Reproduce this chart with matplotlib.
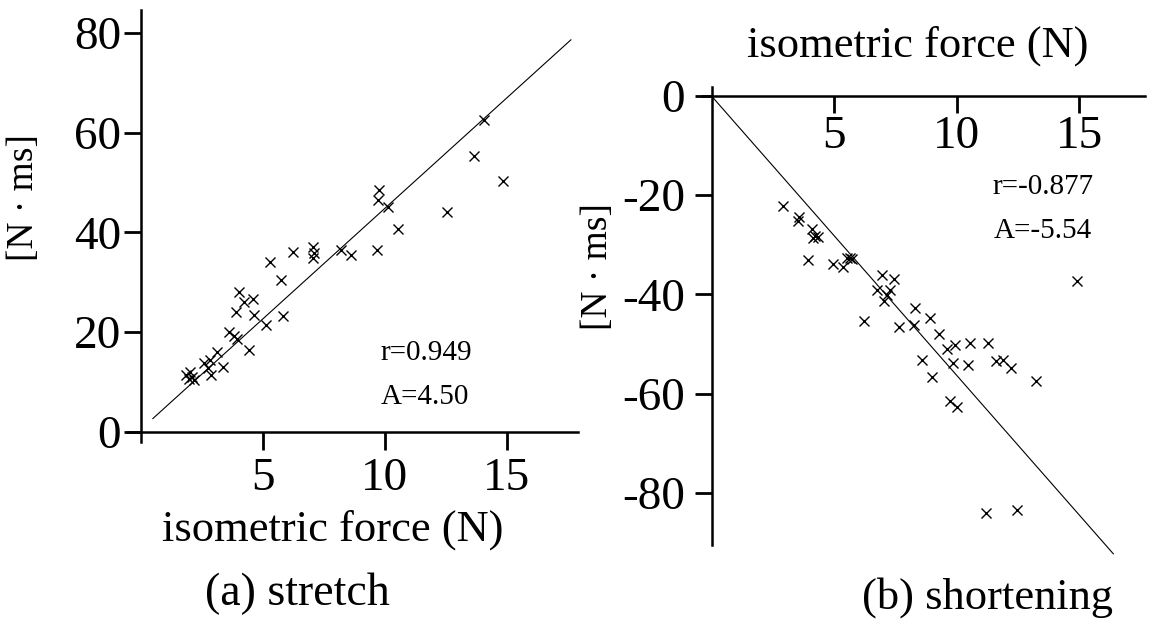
import matplotlib
matplotlib.use("Agg")
import matplotlib.pyplot as plt

plt.rcParams['font.family'] = ['Liberation Serif', 'DejaVu Serif']
plt.rcParams['axes.unicode_minus'] = False

# ---- data: (a) stretch ----
stretch_force = [14.07, 13.66, 14.85, 12.58, 9.78, 9.74, 10.15, 10.56, 9.67, 8.20,
                 8.62, 7.07, 7.10, 7.07, 6.23, 5.30, 5.74, 5.82, 5.14, 4.04,
                 4.61, 4.25, 3.93, 4.65, 3.63, 3.83, 3.96, 4.45, 3.14, 2.84,
                 2.60, 3.39, 2.77, 2.88, 1.86, 2.02, 1.99, 2.18, 2.09]
stretch_imp = [62.5, 55.4, 50.3, 44.1, 48.6, 46.5, 45.0, 40.7, 36.5, 36.5,
               35.5, 37.1, 35.9, 34.8, 36.1, 34.0, 30.5, 23.3, 21.4, 28.1,
               26.6, 26.1, 24.0, 23.5, 20.1, 19.3, 18.6, 16.5, 16.1, 14.4,
               13.8, 13.0, 12.8, 11.4, 11.4, 12.1, 10.6, 10.4, 11.1]
stretch_fit_x = [0.5, 17.64]
stretch_fit_y = [2.7, 78.6]
stretch_r = "r=0.949"
stretch_A = "A=4.50"

# ---- data: (b) shortening ----
short_force = [2.93, 3.57, 3.54, 4.09, 4.22, 4.36, 4.16, 3.95, 4.97, 5.36,
               5.52, 5.66, 5.72, 6.95, 7.45, 6.74, 7.29, 7.15, 7.04, 6.22,
               7.67, 8.28, 8.30, 8.90, 9.28, 9.62, 9.94, 10.55, 11.27, 8.59,
               9.85, 10.45, 11.60, 11.91, 12.21, 9.00, 13.25, 9.72, 10.04, 14.91,
               11.22, 12.48]
short_imp = [-22.1, -24.3, -25.3, -26.8, -28.3, -28.5, -28.7, -33.0, -33.9, -34.5,
             -32.7, -32.6, -32.9, -36.1, -36.9, -39.1, -39.2, -40.2, -41.3, -45.3,
             -46.5, -46.1, -42.8, -44.7, -48.0, -51.0, -50.3, -49.7, -49.7, -53.3,
             -53.8, -54.2, -53.5, -53.3, -54.8, -56.7, -57.4, -61.4, -62.8, -37.2,
             -84.1, -83.5]
short_fit_x = [0.0, 16.4]
short_fit_y = [0.0, -92.3]
short_r = "r=-0.877"
short_A = "A=-5.54"

x_ticks = [5, 10, 15]
y_ticks_a = [0, 20, 40, 60, 80]
y_ticks_b = [0, -20, -40, -60, -80]

W, H = 1153, 626
fig = plt.figure(figsize=(W / 100, H / 100), dpi=100)

TICK_FS = 34
SPINE_LW = 1.8

def style(ax):
    for s in ('top', 'right'):
        ax.spines[s].set_visible(False)
    ax.spines['left'].set_position(('data', 0))
    ax.spines['bottom'].set_position(('data', 0))
    ax.spines['left'].set_linewidth(SPINE_LW)
    ax.spines['bottom'].set_linewidth(SPINE_LW)
    ax.set_facecolor('none')

# ---- (a) ----
axa = fig.add_axes([0.1114, 0.2939, 0.3903, 0.6895])
style(axa)
axa.set_xlim(-0.5, 17.95)
axa.set_ylim(-2, 84.5)
axa.plot(stretch_fit_x, stretch_fit_y, color='black', lw=0.8)
axa.plot(stretch_force, stretch_imp, linestyle='none', marker='x', ms=7.5, mew=1.0, color='black')
axa.set_xticks(x_ticks)
axa.set_yticks(y_ticks_a)
axa.tick_params(axis='x', direction='out', length=13, width=2, pad=5, labelsize=TICK_FS)
axa.tick_params(axis='y', direction='out', length=12, width=2, pad=2, labelsize=TICK_FS)
axa.text(9.85, 15.8, stretch_r, fontsize=21, va='center', ha='left')
axa.text(9.85, 7.0, stretch_A, fontsize=21, va='center', ha='left')

# ---- (b) ----
axb = fig.add_axes([0.6086, 0.1296, 0.3846, 0.7321])
style(axb)
axb.set_xlim(-0.4, 17.7)
axb.set_ylim(-90.5, 1.9)
axb.plot(short_fit_x, short_fit_y, color='black', lw=0.8, clip_on=False)
axb.plot(short_force, short_imp, linestyle='none', marker='x', ms=7.5, mew=1.0, color='black')
axb.set_xticks(x_ticks)
axb.set_yticks(y_ticks_b)
axb.tick_params(axis='x', direction='out', length=12, width=2, pad=2, labelsize=TICK_FS)
axb.tick_params(axis='y', direction='out', length=12, width=2, pad=7, labelsize=TICK_FS)
axb.text(11.45, -18.3, short_r, fontsize=21, va='center', ha='left')
axb.text(11.5, -27.2, short_A, fontsize=21, va='center', ha='left')

# ---- labels ----
def ftext(x, y, s, **kw):
    fig.text(x / W, 1 - y / H, s, ha='center', va='center', **kw)

ftext(333, 530, "isometric force (N)", fontsize=32)
ftext(918, 46, "isometric force (N)", fontsize=32)
ftext(297, 594, "(a) stretch", fontsize=33)
ftext(988, 598, "(b) shortening", fontsize=32)
ftext(24, 198, "[N · ms]", fontsize=27, rotation=90)
ftext(598, 267, "[N · ms]", fontsize=27, rotation=90)

fig.savefig("out.png", dpi=100, facecolor='white')
